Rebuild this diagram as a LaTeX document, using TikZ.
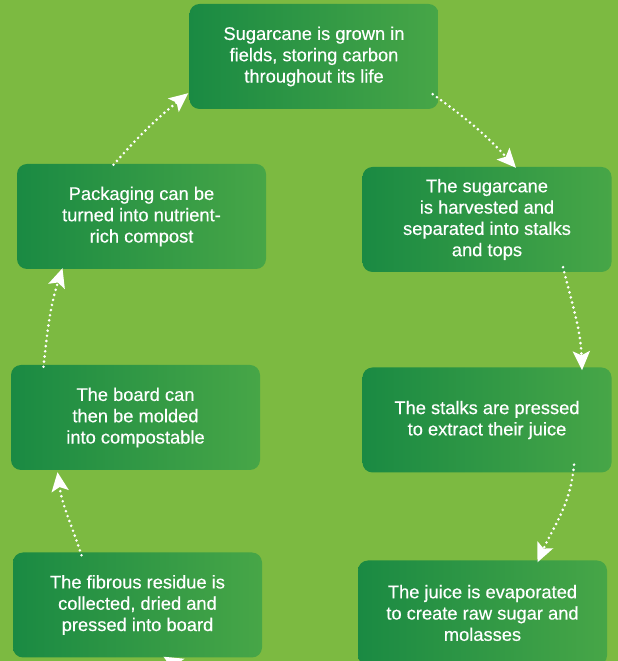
\documentclass[tikz,border=0pt]{standalone}
\usepackage{fontspec}
\setmainfont{Liberation Sans}[UprightFeatures={FakeBold=0.4}]
\usetikzlibrary{arrows.meta}
\definecolor{bggreen}{HTML}{7CBA41}
\definecolor{boxleft}{HTML}{1A8A43}
\definecolor{boxright}{HTML}{47A647}
\tikzset{
  stagebox/.style={rounded corners=10pt, left color=boxleft, right color=boxright,
    minimum width=249pt, minimum height=105pt, inner sep=0pt, text=white, align=center,
    font=\fontsize{18.3}{21.3}\selectfont},
  flowarrow/.style={white, line width=2.9pt, line cap=round, dash pattern=on 0pt off 5.2pt,
    -{Stealth[length=19pt 0 1,width=17pt 0 1,inset=4pt 0]}}
}
\begin{document}
\begin{tikzpicture}[x=1pt,y=1pt]
\fill[bggreen] (0,0) rectangle (618,661);
\useasboundingbox (0,0) rectangle (618,661);
\node[stagebox] (grow) at (314,604.5) {Sugarcane is grown in\\fields, storing carbon\\throughout its life};
\node[stagebox] (harv) at (487,441.5) {The sugarcane\\is harvested and\\separated into stalks\\and tops};
\node[stagebox] (press) at (487,241) {The stalks are pressed\\to extract their juice};
\node[stagebox] (juice) at (482.5,48) {The juice is evaporated\\to create raw sugar and\\molasses};
\node[stagebox] (fibre) at (137.5,56) {The fibrous residue is\\collected, dried and\\pressed into board};
\node[stagebox] (board) at (135.5,243.5) {The board can\\then be molded\\into compostable};
\node[stagebox] (pack) at (141.5,444.5) {Packaging can be\\turned into nutrient-\\rich compost};
\draw[flowarrow] ([xshift=-6pt,yshift=15pt]grow.south east) to[bend left=6] ([xshift=29pt,yshift=-1pt]harv.north);
\draw[flowarrow] ([xshift=76pt,yshift=5pt]harv.south) to[out=-76,in=92] ([xshift=95pt,yshift=-3pt]press.north);
\draw[flowarrow] ([xshift=87pt,yshift=8pt]press.south) to[out=-95,in=66] ([xshift=55pt,yshift=-2pt]juice.north);
\draw[flowarrow] ([xshift=-60pt,yshift=-6pt]juice.south) to[out=-160,in=-30] ([xshift=26pt,yshift=1pt]fibre.south);
\draw[flowarrow] ([xshift=-56pt,yshift=-3pt]fibre.north) to[out=108,in=-82] ([xshift=-78pt,yshift=-2pt]board.south);
\draw[flowarrow] ([xshift=-92pt,yshift=-2pt]board.north) to[out=84,in=-108] ([xshift=-79pt,yshift=1pt]pack.south);
\draw[flowarrow] ([xshift=-28pt,yshift=-1pt]pack.north) to[bend left=5] ([xshift=-1pt,yshift=16pt]grow.south west);
\end{tikzpicture}
\end{document}
